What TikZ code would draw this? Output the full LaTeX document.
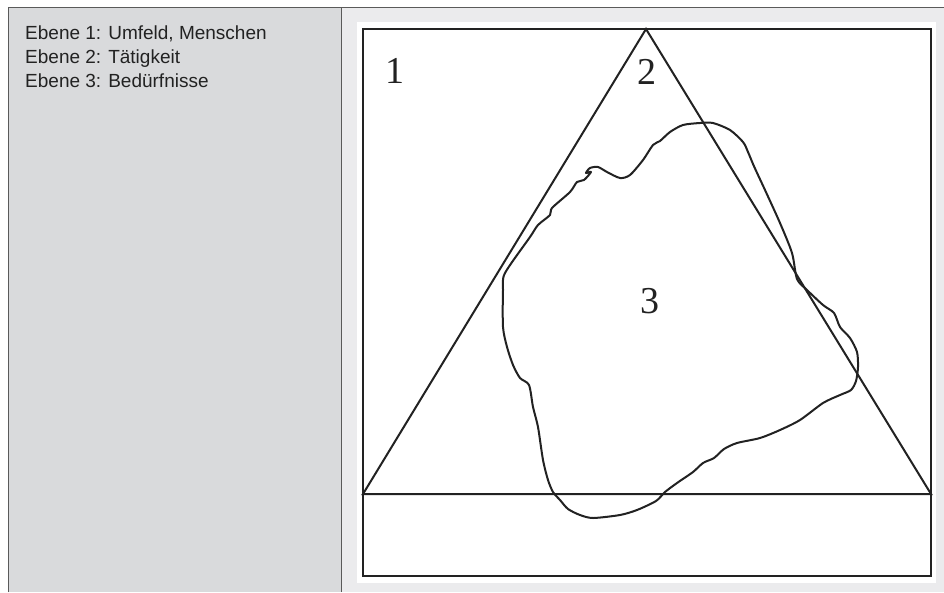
\documentclass[tikz,border=0pt]{standalone}
\usepackage{fontspec}
\setmainfont{Liberation Serif}
\newfontfamily\legendfont{Liberation Sans}
\definecolor{panelgray}{HTML}{D9DADC}
\definecolor{pagegray}{HTML}{EBEBED}
\definecolor{rulegray}{HTML}{5A5A5A}
\definecolor{inkblack}{HTML}{222222}
\begin{document}
\begin{tikzpicture}[x=1pt,y=-1pt,
  legend/.style={anchor=base west,inner sep=0pt,text=inkblack,font=\legendfont\fontsize{19}{22}\selectfont},
  zone/.style={inner sep=0pt,text=inkblack,font=\fontsize{38}{40}\selectfont},
  ink/.style={color=inkblack,line width=2pt}]
  \useasboundingbox (0,0) rectangle (944,592);
  % panels
  \fill[panelgray] (8,7) rectangle (341,592);
  \fill[pagegray] (341,7) rectangle (944,592);
  \fill[white] (357,22) rectangle (936,583);
  \draw[rulegray,line width=1pt] (8,592) -- (8,7) -- (944,7);
  \draw[rulegray,line width=1pt] (341,7) -- (341,592);

  \node[legend] (ebene1) at (25,39) {Ebene 1: Umfeld, Menschen};
  \node[legend] (ebene2) at (25,63) {Ebene 2: Tätigkeit};
  \node[legend] (ebene3) at (25,87) {Ebene 3: Bedürfnisse};

  % frame, triangle
  \draw[ink,line width=2.3pt] (363,29) rectangle (931,576);
  \draw[ink] (646,29) -- (363,494) -- (931,494) -- cycle;

  % Bedürfnisse
  \draw[ink,line join=round] plot[smooth cycle,tension=0.45] coordinates {
    (590,168) (598,167) (607,172) (620,178) (630,175) (643,160) (653,145)
    (660,141) (670,132) (683,125) (700,123) (713,123) (730,130) (743,142)
    (748,152) (753,164) (758,175) (765,190) (780,223) (792,253) (797,279)
    (807,290) (823,305) (834,313) (840,327) (850,338) (857,352) (858,367)
    (856,381) (851,390) (840,395) (823,403) (800,420) (780,430) (760,438)
    (737,443) (724,449) (714,458) (703,463) (693,472) (677,483) (665,492)
    (656,501) (637,510) (620,515) (593,518) (580,515) (568,509) (560,500)
    (553,492) (548,480) (543,460) (538,427) (533,407) (529,385) (520,378)
    (513,365) (507,347) (503,327) (503,290) (505,273) (530,237) (538,225)
    (550,215) (552,208) (570,192) (577,182) (584,180) (591,172) (586,173)};

  \node[zone] (zone1) at (395,71) {1};
  \node[zone] (zone2) at (647,72) {2};
  \node[zone] (zone3) at (650,301) {3};
\end{tikzpicture}
\end{document}
